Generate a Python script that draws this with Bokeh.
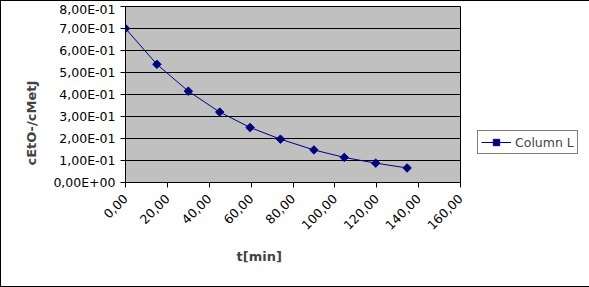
from math import pi
from bokeh.plotting import figure
from bokeh.models import FixedTicker, Legend, LegendItem, Range1d, Title
from bokeh.embed import file_html
from bokeh.resources import INLINE

# data
t_min = [0, 15, 30, 45, 59.5, 74, 90, 104.5, 119.5, 134.5]
ratio = [0.700, 0.537, 0.415, 0.320, 0.250, 0.197, 0.148, 0.114, 0.088, 0.066]
series_name = "Column L"

x_ticks = [0, 20, 40, 60, 80, 100, 120, 140, 160]
x_tick_labels = ["0,00", "20,00", "40,00", "60,00", "80,00", "100,00", "120,00", "140,00", "160,00"]
y_ticks = [0, 0.1, 0.2, 0.3, 0.4, 0.5, 0.6, 0.7, 0.8]
y_tick_labels = ["0,00E+00", "1,00E-01", "2,00E-01", "3,00E-01", "4,00E-01",
                 "5,00E-01", "6,00E-01", "7,00E-01", "8,00E-01"]

FONT = "DejaVu Sans"
NAVY = "#000080"

p = figure(frame_width=335, frame_height=176, output_backend="svg", toolbar_location=None,
           x_range=Range1d(0, 160), y_range=Range1d(0, 0.8),
           min_border_left=124, min_border_right=128, min_border_top=5, min_border_bottom=104,
           background_fill_color="#C0C0C0", border_fill_color="white",
           styles={"border": "1px solid black"})
p.outline_line_color = "black"
p.outline_line_width = 1

p.xaxis.ticker = FixedTicker(ticks=x_ticks)
p.yaxis.ticker = FixedTicker(ticks=y_ticks)
p.xaxis.major_label_overrides = {k: v for k, v in zip(x_ticks, x_tick_labels)}
p.yaxis.major_label_overrides = {k: v for k, v in zip(y_ticks, y_tick_labels)}
p.xaxis.major_label_orientation = pi / 4

for ax in (p.xaxis, p.yaxis):
    ax.axis_line_color = "black"
    ax.major_tick_line_color = "black"
    ax.major_tick_out = 5
    ax.major_tick_in = 0
    ax.minor_tick_line_color = None
    ax.major_label_text_font = FONT
    ax.major_label_text_font_size = "12.5px"
    ax.major_label_text_color = "black"
    ax.major_label_standoff = 5
p.xaxis.major_label_standoff = 9

p.xgrid.grid_line_color = None
p.ygrid.grid_line_color = "black"
p.ygrid.grid_line_width = 1

line = p.line(t_min, ratio, line_color=NAVY, line_width=1)
pts = p.scatter(t_min, ratio, marker="square", angle=pi / 4, size=6,
                fill_color=NAVY, line_color=NAVY)

legend = Legend(items=[LegendItem(label=series_name, renderers=[line, pts])],
                location=(17, 28), border_line_color="black", border_line_width=1,
                background_fill_color="white", background_fill_alpha=1,
                label_text_font=FONT, label_text_font_size="12.5px",
                glyph_width=30, glyph_height=16, padding=3, margin=0,
                label_standoff=4, spacing=0)
p.add_layout(legend, "right")

xtitle = Title(text="t[min]", align="left", offset=111, standoff=21,
               text_font=FONT, text_font_size="13px", text_font_style="bold")
ytitle = Title(text="cEtO-/cMetJ", align="left", offset=17, standoff=24,
               text_font=FONT, text_font_size="13px", text_font_style="bold")
p.add_layout(xtitle, "below")
p.add_layout(ytitle, "left")

open("out.html", "w").write(file_html(p, INLINE))
